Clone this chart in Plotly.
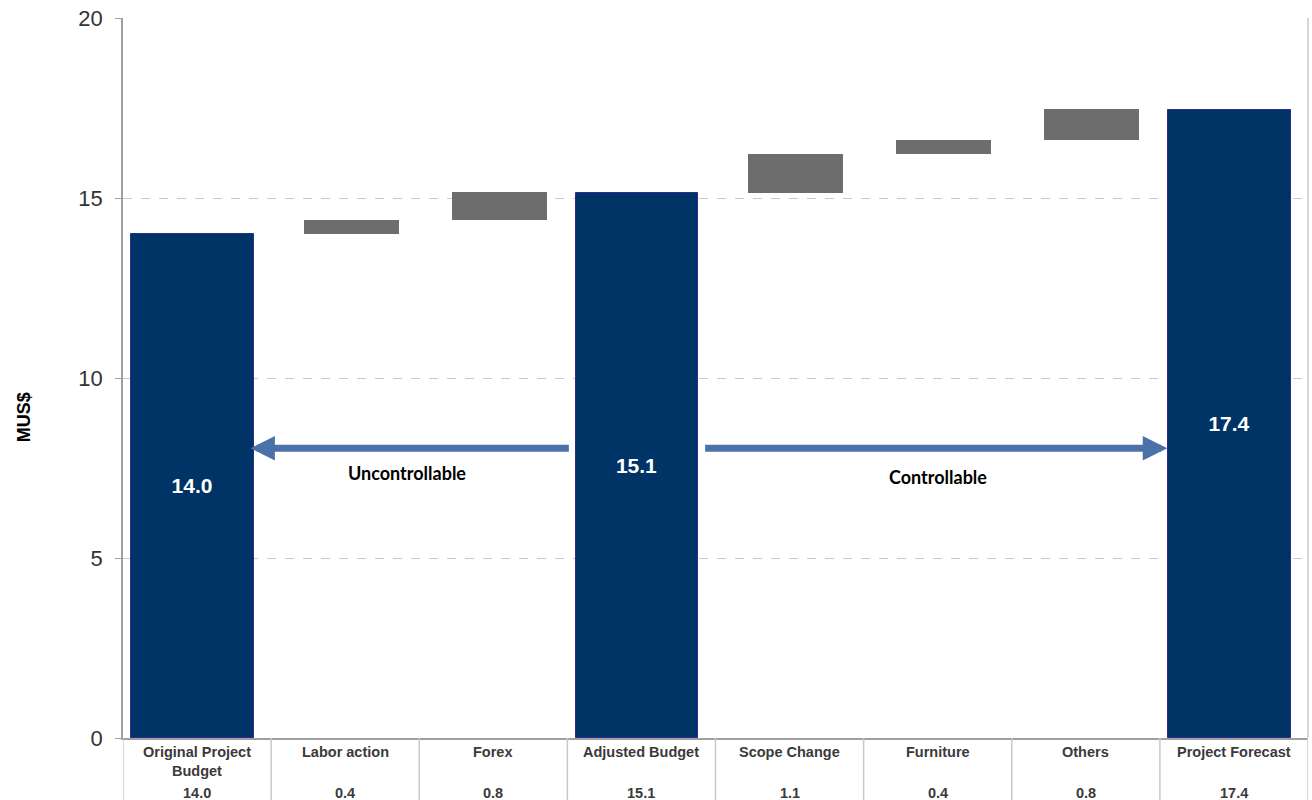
import plotly.graph_objects as go

categories = ["Original Project<br>Budget", "Labor action", "Forex", "Adjusted Budget",
              "Scope Change", "Furniture", "Others", "Project Forecast"]
table_values = ["14.0", "0.4", "0.8", "15.1", "1.1", "0.4", "0.8", "17.4"]

total_idx = [0, 3, 7]
total_vals = [14.0, 15.14, 17.44]
total_labels = ["14.0", "15.1", "17.4"]

delta_idx = [1, 2, 4, 5, 6]
delta_vals = [0.38, 0.80, 1.08, 0.40, 0.84]
delta_base = [14.0, 14.38, 15.14, 16.22, 16.62]

NAVY = "#003366"
GRAY = "#6d6d6d"
FONT = "Liberation Sans, Arial, sans-serif"

fig = go.Figure()
fig.add_trace(go.Bar(
    x=total_idx, y=total_vals, width=0.83, offset=-0.445,
    marker=dict(color=NAVY, line=dict(color="#2b2b90", width=1)),
    text=total_labels, textposition="inside", insidetextanchor="middle",
    textangle=0, textfont=dict(color="white", size=21, family=FONT),
    texttemplate="<b>%{text}</b>", hoverinfo="skip", showlegend=False))
fig.add_trace(go.Bar(
    x=delta_idx, y=delta_vals, base=delta_base, width=0.64, offset=-0.28,
    marker=dict(color=GRAY, line=dict(width=0)), hoverinfo="skip", showlegend=False))

shapes = []
for k in range(9):
    shapes.append(dict(type="line", xref="x", yref="paper", x0=k - 0.5, x1=k - 0.5,
                       y0=0, y1=-0.1, line=dict(color="#c8c8c8", width=1.5)))
# right border of plot
shapes.append(dict(type="line", xref="paper", yref="paper", x0=1, x1=1, y0=0, y1=1,
                   line=dict(color="#c8c8c8", width=1.5)))
fig.update_layout(shapes=shapes)

ann = []
for i, (c, v) in enumerate(zip(categories, table_values)):
    ann.append(dict(x=i, y=-0.005, xref="x", yref="paper", text="<b>" + c + "</b>",
                    showarrow=False, yanchor="top", xanchor="center",
                    font=dict(family=FONT, size=14.5, color="#3a3a3a")))
    ann.append(dict(x=i, y=-0.0764, xref="x", yref="paper", text="<b>" + v + "</b>",
                    showarrow=False, yanchor="middle", xanchor="center",
                    font=dict(family=FONT, size=14.5, color="#3a3a3a")))

# arrows
ann.append(dict(x=0.36, y=8.05, ax=2.52, ay=8.05, xref="x", yref="y", axref="x", ayref="y",
                text="", showarrow=True, arrowhead=2, arrowsize=0.7, arrowwidth=7,
                arrowcolor="#4a72a8"))
ann.append(dict(x=6.55, y=8.05, ax=3.42, ay=8.05, xref="x", yref="y", axref="x", ayref="y",
                text="", showarrow=True, arrowhead=2, arrowsize=0.7, arrowwidth=7,
                arrowcolor="#4a72a8"))
ann.append(dict(x=1.42, y=7.35, xref="x", yref="y", text="<b>Uncontrollable</b>", showarrow=False,
                font=dict(family="Lato, Open Sans, sans-serif", size=18, color="black")))
ann.append(dict(x=5.0, y=7.25, xref="x", yref="y", text="<b>Controllable</b>", showarrow=False,
                font=dict(family="Lato, Open Sans, sans-serif", size=18, color="black")))
# y title
ann.append(dict(x=-0.084, y=0.446, xref="paper", yref="paper", text="<b>MUS$</b>", textangle=-90,
                showarrow=False, xanchor="center", yanchor="middle",
                font=dict(family=FONT, size=18, color="black")))

fig.update_layout(
    annotations=ann,
    width=1312, height=800,
    margin=dict(l=123, r=4, t=18, b=62),
    plot_bgcolor="white", paper_bgcolor="white",
    bargap=0,
    xaxis=dict(range=[-0.5, 7.5], showticklabels=False, showgrid=False, zeroline=False,
               showline=True, linecolor="#a0a0a0", linewidth=1.5, ticks=""),
    yaxis=dict(range=[0, 20], tickvals=[0, 5, 10, 15, 20], showgrid=True,
               gridcolor="#c8c8c8", griddash="dash", gridwidth=1, zeroline=False,
               showline=True, linecolor="#a0a0a0", linewidth=1.5,
               ticks="outside", ticklen=6, tickcolor="#a0a0a0", ticklabelstandoff=8,
               tickfont=dict(family=FONT, size=22, color="#333333")),
)

fig.write_html("out.html")
